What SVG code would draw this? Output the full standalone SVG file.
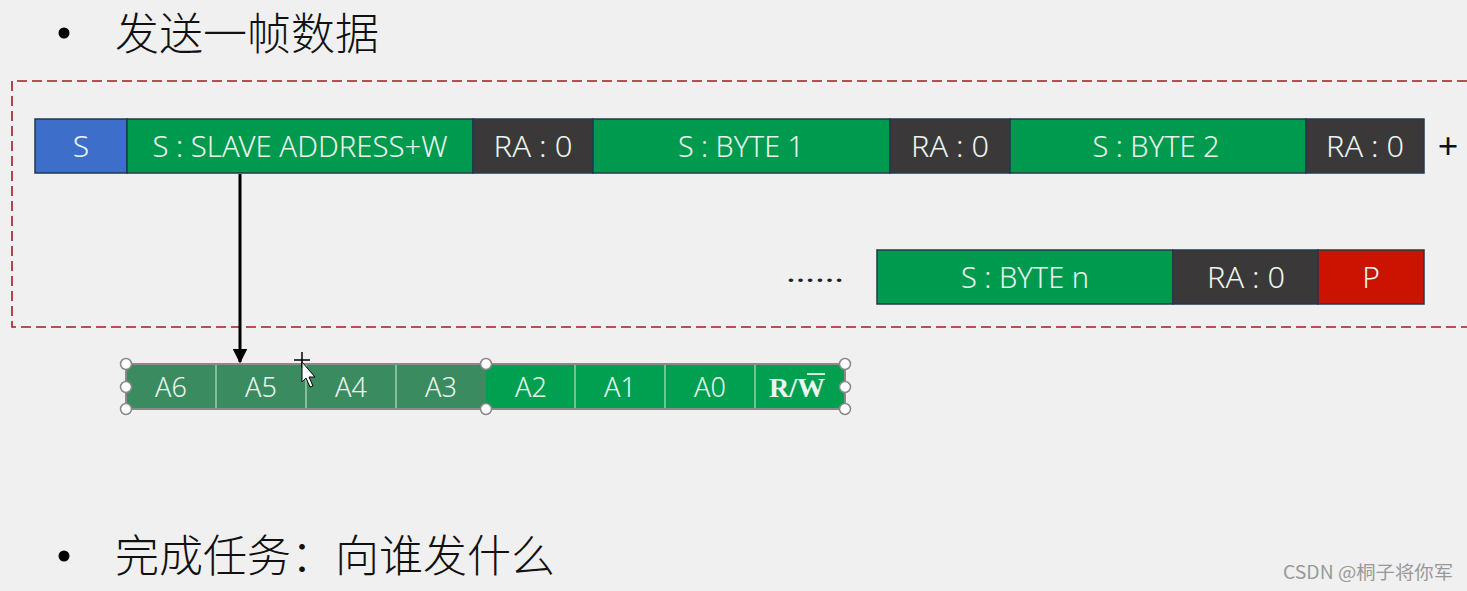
<svg xmlns="http://www.w3.org/2000/svg" width="1467" height="591" viewBox="0 0 1467 591">
<style>
.cn{font-family:"Noto Sans CJK SC","Noto Sans",sans-serif;fill:#111;font-weight:300;}
.lbl{font-family:"Noto Sans","Liberation Sans",sans-serif;font-size:30px;font-weight:300;fill:#eaf5ee;text-anchor:middle;}
.cell{font-family:"Noto Sans","Liberation Sans",sans-serif;font-size:27px;font-weight:300;fill:#eaf5ee;text-anchor:middle;}
.g{fill:#009a4f;stroke:#203a4a;stroke-width:1.5;}
.d{fill:#3a3838;stroke:#203a4a;stroke-width:1.5;}
.b{fill:#3d6fca;stroke:#203a4a;stroke-width:1.5;}
.r{fill:#cc1200;stroke:#203a4a;stroke-width:1.5;}
.h{fill:#fff;stroke:#888;stroke-width:1.5;}
.sep{stroke:#b8e0c4;stroke-width:1.2;}
</style>
<defs>
<marker id="ah" viewBox="0 0 10 10" refX="9" refY="5" markerWidth="5" markerHeight="5" orient="auto" markerUnits="strokeWidth">
<path d="M0,0 L10,5 L0,10 z" fill="#000"/>
</marker>
</defs>
<rect width="1467" height="591" fill="#f0f0f0"/>

<g id="title">
<circle cx="64" cy="33" r="5.5" fill="#000"/>
<text class="cn" x="115" y="50" font-size="44">发送一帧数据</text>
</g>

<g id="frame">
<path d="M1467,81 H12 V327 H1467" fill="none" stroke="#a01c22" stroke-width="1.6" stroke-dasharray="10,5"/>
</g>

<g id="n-start"><rect class="b" x="35" y="119" width="92" height="54"/><text class="lbl" x="81" y="157">S</text></g>
<g id="n-addr"><rect class="g" x="127" y="119" width="346" height="54"/><text class="lbl" x="300" y="157" textLength="295" lengthAdjust="spacingAndGlyphs">S : SLAVE ADDRESS+W</text></g>
<g id="n-ra1"><rect class="d" x="473" y="119" width="120" height="54"/><text class="lbl" x="533" y="157" textLength="79" lengthAdjust="spacingAndGlyphs">RA : 0</text></g>
<g id="n-b1"><rect class="g" x="593" y="119" width="297" height="54"/><text class="lbl" x="741" y="157" textLength="126" lengthAdjust="spacingAndGlyphs">S : BYTE 1</text></g>
<g id="n-ra2"><rect class="d" x="890" y="119" width="120" height="54"/><text class="lbl" x="950" y="157" textLength="78" lengthAdjust="spacingAndGlyphs">RA : 0</text></g>
<g id="n-b2"><rect class="g" x="1010" y="119" width="296" height="54"/><text class="lbl" x="1156" y="157" textLength="127" lengthAdjust="spacingAndGlyphs">S : BYTE 2</text></g>
<g id="n-ra3"><rect class="d" x="1306" y="119" width="118" height="54"/><text class="lbl" x="1365" y="157" textLength="78" lengthAdjust="spacingAndGlyphs">RA : 0</text></g>
<g id="n-plus"><text x="1448" y="159" font-family="Noto Sans, Liberation Sans, sans-serif" font-size="36" fill="#111" text-anchor="middle">+</text></g>

<g id="n-dots"><text x="815" y="282" font-family="Noto Sans, Liberation Sans, sans-serif" font-size="26" fill="#222" text-anchor="middle" textLength="58" lengthAdjust="spacingAndGlyphs">……</text></g>
<g id="n-bn"><rect class="g" x="877" y="250" width="296" height="54"/><text class="lbl" x="1025" y="288" textLength="128" lengthAdjust="spacingAndGlyphs">S : BYTE n</text></g>
<g id="n-ra4"><rect class="d" x="1173" y="250" width="145" height="54"/><text class="lbl" x="1246" y="288" textLength="78" lengthAdjust="spacingAndGlyphs">RA : 0</text></g>
<g id="n-stop"><rect class="r" x="1318" y="250" width="106" height="54"/><text class="lbl" x="1371" y="288">P</text></g>

<g id="connectors">
<line x1="240" y1="174" x2="240" y2="362" stroke="#000" stroke-width="3" marker-end="url(#ah)"/>
</g>

<g id="n-bits">
<rect x="126" y="364" width="360" height="45" fill="#3a8c60"/>
<rect x="486" y="364" width="359" height="45" fill="#00a050"/>
<line class="sep" x1="216" y1="364" x2="216" y2="409"/>
<line class="sep" x1="306" y1="364" x2="306" y2="409"/>
<line class="sep" x1="396" y1="364" x2="396" y2="409"/>
<line class="sep" x1="575" y1="364" x2="575" y2="409"/>
<line class="sep" x1="665" y1="364" x2="665" y2="409"/>
<line class="sep" x1="755" y1="364" x2="755" y2="409"/>
<rect x="126" y="364" width="719" height="45" fill="none" stroke="#8a8a8a" stroke-width="2"/>
<text class="cell" x="171" y="397">A6</text>
<text class="cell" x="261" y="397">A5</text>
<text class="cell" x="351" y="397">A4</text>
<text class="cell" x="441" y="397">A3</text>
<text class="cell" x="531" y="397">A2</text>
<text class="cell" x="620" y="397">A1</text>
<text class="cell" x="710" y="397">A0</text>
<text x="797" y="397" font-family="Liberation Serif, serif" font-size="28" font-weight="bold" fill="#eaf5ee" text-anchor="middle">R/W</text>
<line x1="807" y1="374" x2="825" y2="374" stroke="#eaf5ee" stroke-width="1.8"/>
<circle class="h" cx="126" cy="364" r="5.5"/>
<circle class="h" cx="126" cy="387" r="5.5"/>
<circle class="h" cx="126" cy="409" r="5.5"/>
<circle class="h" cx="486" cy="364" r="5.5"/>
<circle class="h" cx="486" cy="409" r="5.5"/>
<circle class="h" cx="845" cy="364" r="5.5"/>
<circle class="h" cx="845" cy="387" r="5.5"/>
<circle class="h" cx="845" cy="409" r="5.5"/>
</g>

<g id="cursor">
<path d="M302,352 V368 M294,360 H310" stroke="#000" stroke-width="1.5"/>
<path d="M302,362 L302,382 L306,378 L310,387 L313,386 L309,377 L315,377 Z" fill="#fff" stroke="#000" stroke-width="1"/>
</g>

<g id="footer">
<circle cx="64" cy="556" r="5.5" fill="#000"/>
<text class="cn" x="115" y="572" font-size="44">完成任务：向谁发什么</text>
</g>

<g id="watermark">
<text x="1283" y="579" font-family="Noto Sans CJK SC, Noto Sans, sans-serif" font-size="18" fill="#999" textLength="170" lengthAdjust="spacingAndGlyphs">CSDN @桐子将你军</text>
</g>
</svg>
